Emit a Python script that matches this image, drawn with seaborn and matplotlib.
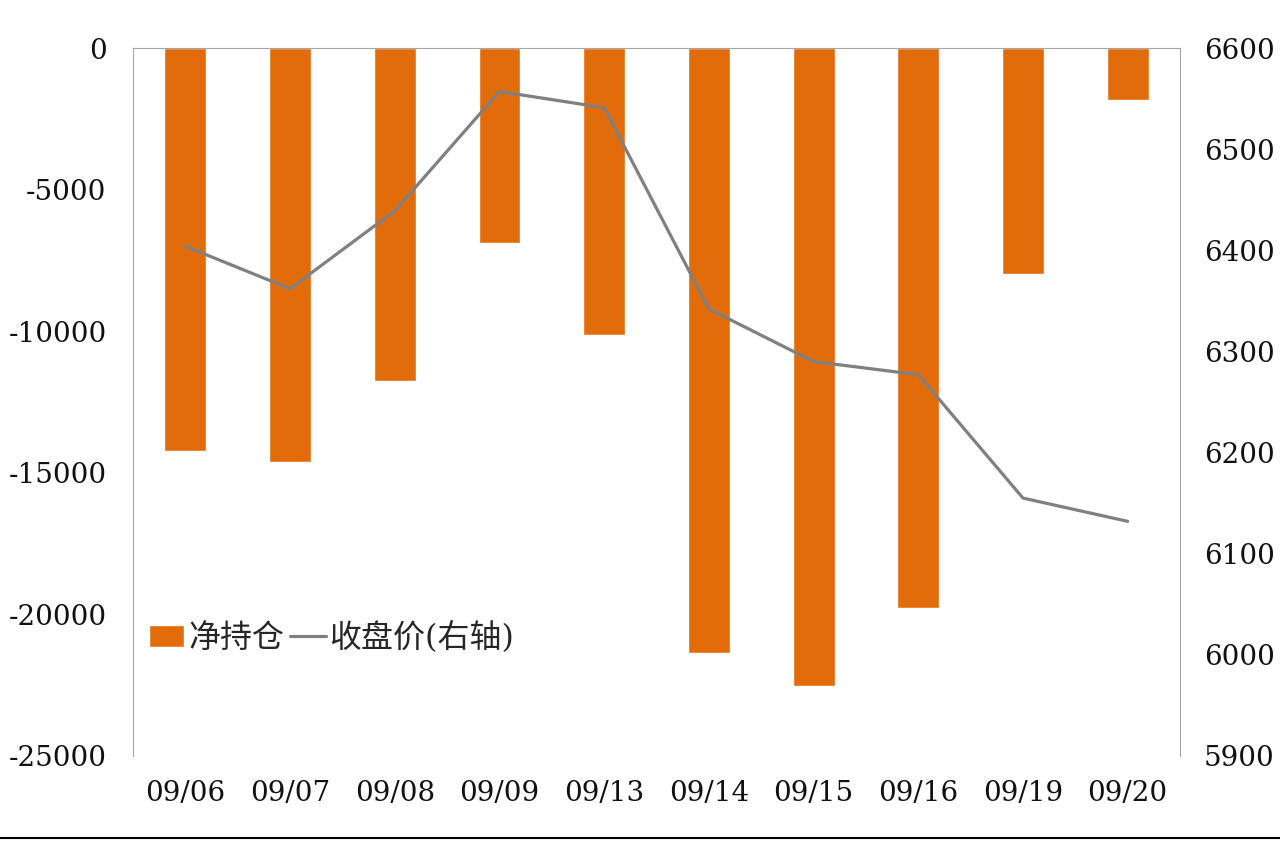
import numpy as np
import pandas as pd
import matplotlib
matplotlib.use("Agg")
import matplotlib.pyplot as plt
from matplotlib.lines import Line2D
import seaborn as sns

dates = ["09/06", "09/07", "09/08", "09/09", "09/13", "09/14", "09/15", "09/16", "09/19", "09/20"]
net_position = [-14230, -14620, -11760, -6890, -10130, -21360, -22530, -19770, -7980, -1840]
close_price = [6404, 6362, 6439, 6557, 6541, 6342, 6290, 6277, 6155, 6132]

sns.set_style("white")
plt.rcParams['font.family'] = ['DejaVu Serif', 'Noto Sans CJK SC']
plt.rcParams['axes.unicode_minus'] = False

df = pd.DataFrame({"date": dates, "net": net_position, "close": close_price})

fig = plt.figure(figsize=(12.8, 8.41), dpi=100)
ax = fig.add_axes([0.1039, 0.1011, 0.818, 0.8418])

sns.barplot(data=df, x="date", y="net", color="#E36C0A", width=0.4,
            saturation=1, ax=ax, label="净持仓")
ax.set_ylim(-25000, 0)
ax.set_yticks(np.arange(-25000, 1, 5000))
ax.set_xlim(-0.5, len(dates) - 0.5)
ax.set_xlabel("")
ax.set_ylabel("")

ax2 = ax.twinx()
sns.lineplot(x=np.arange(len(dates)), y=df["close"], color="#808080",
             linewidth=2.3, ax=ax2, label="收盘价(右轴)", legend=False)
ax2.set_ylim(5900, 6600)
ax2.set_yticks(np.arange(5900, 6601, 100))
ax2.set_ylabel("")

for a in (ax, ax2):
    a.tick_params(length=0, labelsize=20, colors="#111111")
    for s in a.spines.values():
        s.set_visible(False)
ax.tick_params(axis="x", pad=17)
ax.tick_params(axis="y", pad=19)
ax2.tick_params(axis="y", pad=17)
ax.spines["left"].set_visible(True)
ax.spines["left"].set_color("#A6A6A6")
ax.spines["top"].set_visible(True)
ax.spines["top"].set_color("#A6A6A6")
ax2.spines["right"].set_visible(True)
ax2.spines["right"].set_color("#A6A6A6")

h1, l1 = ax.get_legend_handles_labels()
h2, l2 = ax2.get_legend_handles_labels()
if ax.get_legend() is not None:
    ax.get_legend().remove()
fig.legend(h1 + h2, l1 + l2, loc="center left", bbox_to_anchor=(0.094, 0.241),
           ncol=2, frameon=False, fontsize=23, handlelength=1.1,
           handletextpad=0.12, columnspacing=0.2)

fig.add_artist(Line2D([0, 1], [0.003, 0.003], color="black", linewidth=1.5))

fig.savefig("out.png", dpi=100)
